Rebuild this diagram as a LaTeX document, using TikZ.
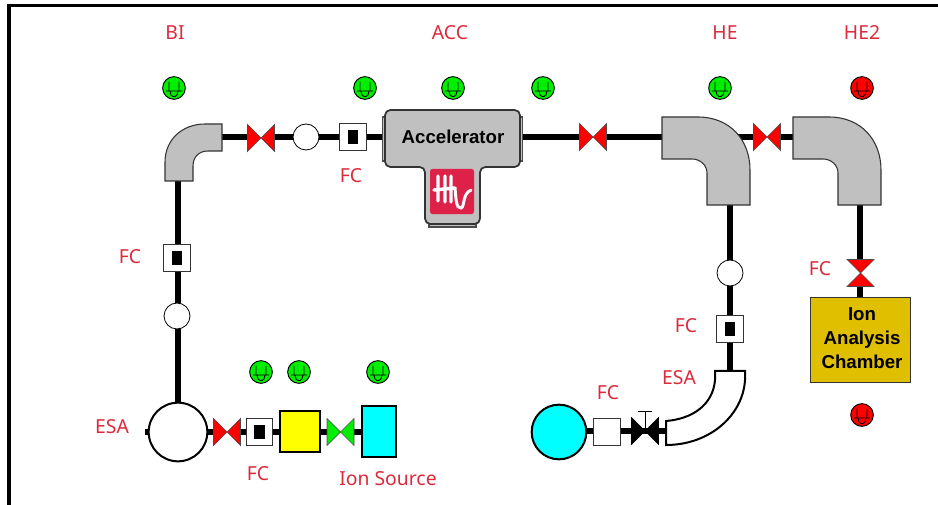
\documentclass[tikz,border=0pt]{standalone}
\usepackage{fontspec}
\setmainfont{Noto Sans}
\newfontfamily\tagfont{Liberation Sans}
\definecolor{labcol}{HTML}{DC2A3C}
\definecolor{bendgrey}{HTML}{C0C0C0}
\definecolor{logocol}{HTML}{DE2148}
\definecolor{gold}{HTML}{E0BE00}
\definecolor{pcyan}{HTML}{00FFFF}
\definecolor{pyellow}{HTML}{FFFF00}
\definecolor{pgreen}{HTML}{00EE00}
\definecolor{pred}{HTML}{FF0000}
\tikzset{
  beam/.style={line width=3.9pt,black},
  lab/.style={text=labcol,font=\fontsize{14.5}{16}\selectfont,inner sep=0pt},
  tagtext/.style={font=\tagfont\fontsize{14}{18}\selectfont\bfseries,inner sep=0pt,align=center},
  ring/.style={circle,draw=black,line width=.6pt,fill=white,minimum size=19.5pt,inner sep=0pt},
  fcbox/.style={rectangle,draw=black!80,line width=.8pt,fill=white,minimum size=20pt,inner sep=0pt},
  coresq/.style={rectangle,fill=black,minimum width=8pt,minimum height=10.5pt,inner sep=0pt},
  bendbox/.style={draw=black!80,line width=.8pt,fill=bendgrey},
  tube/.style={draw=black,line width=1.5pt,fill=white},
  vred/.style={draw=black!70,line width=.5pt,fill=pred},
  vgreen/.style={draw=black!70,line width=.5pt,fill=pgreen},
  lampbase/.style={circle,draw=black,line width=.7pt,minimum size=17pt,inner sep=0pt,
    path picture={
      \draw[line width=.65pt,shift={(path picture bounding box.center)}]
        (-5,-6) -- (-5,3) (5,-6) -- (5,3) (-8,3) -- (8,3)
        (-4,3) -- (-3,7) -- (-1,8.5) -- (1,8.5) -- (3,7) -- (4,3);
    }},
  lampg/.style={lampbase,fill=pgreen},
  lampr/.style={lampbase,fill=pred},
}
\newcommand{\hvalve}[2]{\fill[white] ([shift={(-13.5,-13.5)}]#1) rectangle ([shift={(13.5,13.5)}]#1);
  \draw[#2] ([shift={(-13.5,-13.5)}]#1) -- ([shift={(13.5,13.5)}]#1) -- ([shift={(13.5,-13.5)}]#1) -- ([shift={(-13.5,13.5)}]#1) -- cycle;}
\newcommand{\vvalve}[2]{\fill[white] ([shift={(-13.5,-13.5)}]#1) rectangle ([shift={(13.5,13.5)}]#1);
  \draw[#2] ([shift={(-13.5,-13.5)}]#1) -- ([shift={(13.5,-13.5)}]#1) -- ([shift={(-13.5,13.5)}]#1) -- ([shift={(13.5,13.5)}]#1) -- cycle;}
\begin{document}
\begin{tikzpicture}[x=.75pt,y=-.75pt]
\useasboundingbox (0,0) rectangle (938,505);
% frame
\fill[black] (7,4) rectangle (938,7.5);
\fill[black] (7,4) rectangle (11,505);
% anchors
\coordinate (b1e) at (222,137);
\coordinate (b1s) at (178,181);
\coordinate (v1) at (261,138);
\coordinate (accL) at (384,137);
\coordinate (accR) at (521,137);
\coordinate (v2) at (593,137);
\coordinate (b2w) at (662,137);
\coordinate (b2s) at (730,205);
\coordinate (v3) at (767,137);
\coordinate (b3w) at (793,137);
\coordinate (b3s) at (860,205);
\coordinate (v4) at (860.5,273);
\coordinate (stub) at (145,432);
\coordinate (v5) at (227,432);
\coordinate (v6) at (340.5,432);
\coordinate (v7) at (645,431);
\coordinate (esaN) at (730,371);
\coordinate (esaW) at (667,431);
\coordinate (esa1n) at (178,403);
\coordinate (srcw) at (361,432);
\coordinate (cye) at (587,431);
\coordinate (iacn) at (860,298);
% beams
\draw[beam] (b1e) -- (accL);
\draw[beam] (accR) -- (b2w);
\draw[beam] (b2w) -- (b3w);
\draw[beam] (b1s) -- (esa1n);
\draw[beam] (stub) -- (srcw);
\draw[beam] (b2s) -- (esaN);
\draw[beam] (cye) -- (esaW);
\draw[beam] (b3s) -- (iacn);
% nodes
\node[ring] (r1) at (306,137) {};
\node[fcbox] (f1) at (353,137) {};
\node[fcbox] (f2) at (177,258) {};
\node[ring] (r2) at (177,316) {};
\node[circle,draw=black,line width=1.5pt,fill=white,minimum size=44pt,inner sep=0pt] (esa1) at (178,432) {};
\node[fcbox] (f3) at (259.5,432) {};
\node[rectangle,draw=black,line width=1.5pt,fill=pyellow,minimum width=30pt,minimum height=30pt,inner sep=0pt] (ybox) at (300,431.5) {};
\node[rectangle,draw=black,line width=1.5pt,fill=pcyan,minimum width=26pt,minimum height=37.5pt,inner sep=0pt] (src) at (379,431.5) {};
\node[ring] (r3) at (730,273) {};
\node[fcbox] (f4) at (730,329) {};
\node[circle,draw=black,line width=1.5pt,fill=pcyan,minimum size=41pt,inner sep=0pt] (cy) at (559,432) {};
\node[fcbox] (f5) at (607,432) {};
\node[rectangle,draw=black!80,line width=.8pt,fill=gold,minimum width=75.5pt,minimum height=64pt,inner sep=0pt] (iac) at (860.5,340) {};
% core squares
\node[coresq] (c1) at (f1) {};
\node[coresq] (c2) at (f2) {};
\node[coresq] (c3) at (f3) {};
\node[coresq] (c4) at (f4) {};
% valves
\hvalve{v1}{vred}
\hvalve{v2}{vred}
\hvalve{v3}{vred}
\vvalve{v4}{vred}
\hvalve{v5}{vred}
\hvalve{v6}{vgreen}
\draw[beam] (631,431) -- (659,431);
\draw[fill=black] ([shift={(-13.5,-13.5)}]v7) -- ([shift={(13.5,13.5)}]v7) -- ([shift={(13.5,-13.5)}]v7) -- ([shift={(-13.5,13.5)}]v7) -- cycle;
\draw[line width=.6pt] (v7) -- (645,411) (638,411) -- (652,411);
% bends
\draw[bendbox] (222,124) -- (205,124) .. controls (182,124) and (165,140) .. (165,162) -- (165,181) -- (193,181) -- (193,166) .. controls (193,157) and (199,151) .. (208,151) -- (222,151) -- cycle;
\draw[bendbox] (662,117) -- (698,117) .. controls (730,117) and (750,140) .. (750,170) -- (750,205) -- (707,205) -- (707,173) .. controls (707,165) and (700,159) .. (692,159) -- (662,159) -- cycle;
\draw[bendbox] (793,117) -- (829,117) .. controls (861,117) and (881,140) .. (881,170) -- (881,205) -- (838,205) -- (838,173) .. controls (838,165) and (831,159) .. (823,159) -- (793,159) -- cycle;
\draw[tube] (715,371) -- (745,371) -- (745,380) .. controls (743,415) and (710,445) .. (666,445) -- (666,421) .. controls (692,419) and (713,405) .. (715,380) -- cycle;
% accelerator
\fill[black!70] (382,116) rectangle (523,162);
\fill[bendgrey] (383.2,118) rectangle (521.8,160);
\fill[black!70] (428,222) rectangle (477,228);
\fill[bendgrey] (430,222) rectangle (475,226.5);
\draw[draw=black!80,line width=1.3pt,fill=bendgrey,rounded corners=4pt] (385,110) -- (520,110) -- (520,167) -- (480,167) -- (480,224) -- (425,224) -- (425,167) -- (385,167) -- cycle;
\node[tagtext] (acc) at (453,137) {Accelerator};
\node[rectangle,rounded corners=2pt,fill=logocol,minimum width=33pt,minimum height=34pt,inner sep=0pt] (lg) at (452,191.5) {};
\draw[white,line width=2.6pt,line cap=round] (438,176) -- (438,201) (445,176) -- (445,202) (451,176) -- (451,202) (434,190) -- (455,188);
\draw[white,line width=2.2pt,line cap=round] (455,188) .. controls (456,198) and (456,209) .. (461,208) .. controls (465,207) and (462,194) .. (471,190);
% chamber text
\node[tagtext] (iact) at (862,338.5) {Ion\\Analysis\\Chamber};
% lamps
\node[lampg] (l1) at (174,88) {};
\node[lampg] (l2) at (365,88) {};
\node[lampg] (l3) at (453,88) {};
\node[lampg] (l4) at (543,88) {};
\node[lampg] (l5) at (720,88) {};
\node[lampr] (l6) at (862,88) {};
\node[lampg] (l7) at (261,372) {};
\node[lampg] (l8) at (299,372) {};
\node[lampg] (l9) at (378,372) {};
\node[lampr] (l10) at (862,415) {};
% labels
\node[lab] (tBI) at (175,33) {BI};
\node[lab] (tACC) at (450,33) {ACC};
\node[lab] (tHE) at (725,33) {HE};
\node[lab] (tHE2) at (862,33) {HE2};
\node[lab] (tf1) at (351,176) {FC};
\node[lab] (tf2) at (130,257) {FC};
\node[lab] (tf3) at (258,474) {FC};
\node[lab] (tf4) at (686,326) {FC};
\node[lab] (tf5) at (608,393) {FC};
\node[lab] (tf6) at (820,269) {FC};
\node[lab] (te1) at (112,427) {ESA};
\node[lab] (te2) at (679,378) {ESA};
\node[lab] (tis) at (388,479) {Ion Source};
\end{tikzpicture}
\end{document}
